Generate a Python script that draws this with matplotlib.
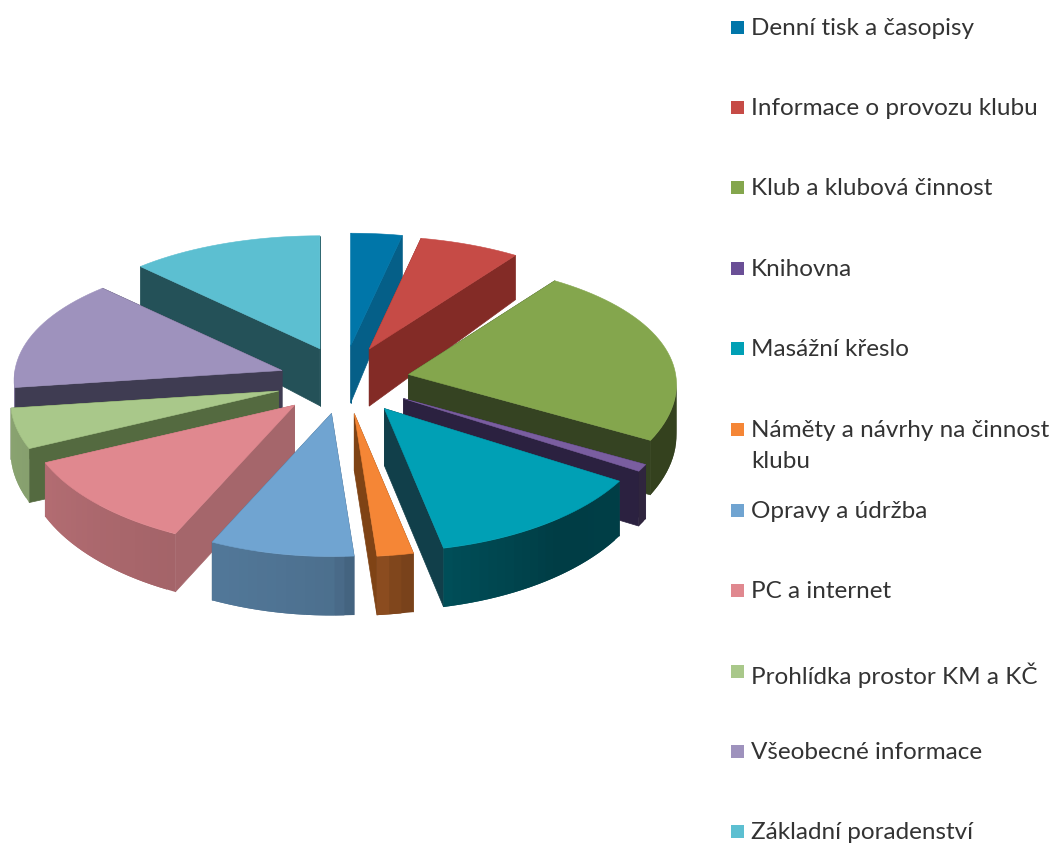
import numpy as np
import matplotlib
matplotlib.use('Agg')
import matplotlib.pyplot as plt
from matplotlib.patches import Polygon, Rectangle

categories = ['Denní tisk a časopisy', 'Informace o provozu klubu', 'Klub a klubová činnost',
              'Knihovna', 'Masážní křeslo', 'Náměty a návrhy na činnost\nklubu', 'Opravy a údržba',
              'PC a internet', 'Prohlídka prostor KM a KČ', 'Všeobecné informace', 'Základní poradenství']
values = [3.1, 6.1, 22.9, 0.9, 13.5, 2.2, 8.7, 11.7, 5.1, 14.2, 11.7]

top_colors = ['#0076A9', '#C64B46', '#84A64D', '#7A5EA0', '#00A0B5', '#F58636',
              '#70A4D1', '#E0888F', '#A9C88A', '#9E92BD', '#5CBFD1']
cut_colors = ['#055F88', '#832B26', '#354322', '#2B2140', '#113F4A', '#7F4315',
              '#425F7C', '#A5666B', '#546A40', '#3F3C52', '#245158']
legend_colors = ['#0076A9', '#C64B46', '#84A64D', '#6A4F96', '#00A0B5', '#F58636',
                 '#70A4D1', '#E0888F', '#A9C88A', '#9E92BD', '#5CBFD1']
legend_y = [27, 107, 187, 268, 348, 429, 510, 590, 671, 751, 831]

# layout of the fake 3D pie, in pixels
CX, CY = 344, 380
RX = 268
RY_MID, RY_AMP = 128, 15
SIDE_DROP = 10
EX, EY = 67, 34
APEX_DROP = 4
H_APEX = 57
H_MID, H_AMP = 51, 8


def rim(t):
    # t is degrees clockwise from 12 o'clock, returns offset from the slice apex
    r = np.radians(t)
    ry = RY_MID - RY_AMP * np.cos(r)
    return RX * np.sin(r), -ry * np.cos(r) + SIDE_DROP * np.sin(r) ** 2


def rim_height(t):
    return H_MID - H_AMP * np.cos(np.radians(t))


def shade(t):
    # how much the outer wall is darkened, going round the pie
    return np.interp(t, [90, 140, 170, 180, 200, 250, 270], [0.40, 0.38, 0.50, 0.68, 0.72, 0.80, 0.82])


def scaled(color, f):
    return np.array(matplotlib.colors.to_rgb(color)) * f


fig, ax = plt.subplots(figsize=(10.56, 8.44), dpi=100)
fig.subplots_adjust(0, 0, 1, 1)
ax.set_xlim(0, 1056)
ax.set_ylim(844, 0)
ax.axis('off')

edges = np.concatenate([[0], np.cumsum(values)]) / sum(values) * 360
mids = (edges[:-1] + edges[1:]) / 2

# back to front
order = np.argsort(-np.cos(np.radians(mids)), kind='stable')
for rank, i in enumerate(order):
    z = 10 + 3 * rank
    t0, t1 = edges[i], edges[i + 1]
    m = np.radians(mids[i])
    ax0 = CX + EX * np.sin(m)
    ay0 = CY - EY * np.cos(m) + APEX_DROP * np.sin(m) ** 2
    ts = np.linspace(t0, t1, max(int((t1 - t0) / 2), 3) + 1)
    dx, dy = rim(ts)
    xs, ys = ax0 + dx, ay0 + dy
    hs = rim_height(ts)

    # cut faces
    for k in (0, -1):
        pts = [(ax0, ay0), (xs[k], ys[k]), (xs[k], ys[k] + hs[k]), (ax0, ay0 + H_APEX)]
        ax.add_patch(Polygon(pts, closed=True, fc=cut_colors[i], ec=cut_colors[i], lw=0.5, zorder=z))

    # outer wall, only where it faces the viewer. Each strip runs under the next one so no seams show
    for j in range(len(ts) - 1):
        tm = (ts[j] + ts[j + 1]) / 2
        if np.cos(np.radians(tm)) > 0.05:
            continue
        e = min(j + 2, len(ts) - 1)
        quad = [(xs[j], ys[j]), (xs[e], ys[e]), (xs[e], ys[e] + hs[e]), (xs[j], ys[j] + hs[j])]
        c = scaled(top_colors[i], shade(tm))
        ax.add_patch(Polygon(quad, closed=True, fc=c, ec='none', zorder=z + 1))

    # top face
    pts = [(ax0, ay0)] + list(zip(xs, ys))
    ax.add_patch(Polygon(pts, closed=True, fc=top_colors[i], ec=top_colors[i], lw=0.4, zorder=z + 2))

# legend
for name, col, y in zip(categories, legend_colors, legend_y):
    ax.add_patch(Rectangle((731, y - 6), 13, 13, fc=col, ec='none', zorder=100))
    ax.text(751, y - 9, name, fontsize=17.5, color='#333333', va='top', ha='left',
            family=['Lato', 'DejaVu Sans'], linespacing=1.6, zorder=101)

plt.savefig('out.png', dpi=100)
plt.close()
